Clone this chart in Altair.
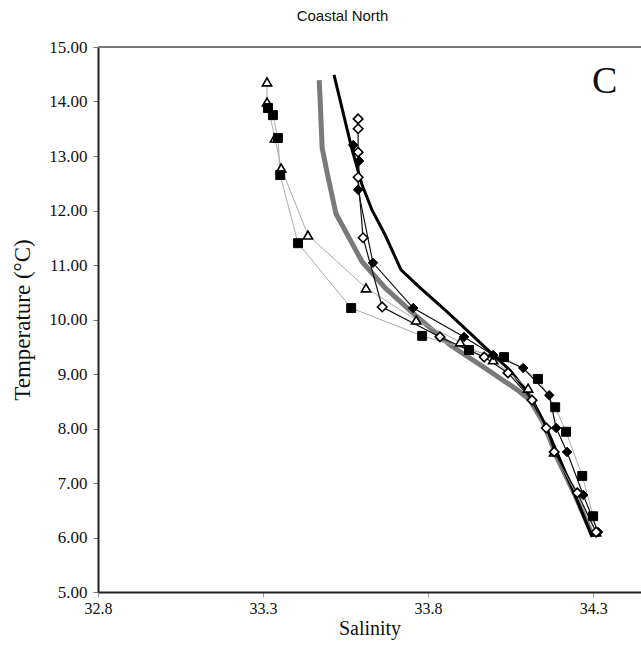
import altair as alt
import pandas as pd

# ---- data (salinity, temperature) ----
tri_s = [33.312, 33.312, 33.336, 33.355, 33.436, 33.612, 33.764, 33.897, 33.997, 34.103, 34.182, 34.309]
tri_t = [14.36, 13.99, 13.33, 12.78, 11.55, 10.58, 9.99, 9.59, 9.26, 8.74, 7.57, 6.10]

sq_s = [33.315, 33.330, 33.345, 33.352, 33.406, 33.567, 33.782, 33.924, 34.030, 34.133, 34.185, 34.218, 34.267, 34.300]
sq_t = [13.88, 13.75, 13.33, 12.65, 11.40, 10.21, 9.70, 9.44, 9.31, 8.91, 8.39, 7.94, 7.13, 6.39]

odia_s = [33.588, 33.588, 33.588, 33.588, 33.603, 33.661, 33.836, 33.970, 34.042, 34.115, 34.158, 34.182, 34.252, 34.309]
odia_t = [13.68, 13.50, 13.07, 12.61, 11.50, 10.23, 9.68, 9.31, 9.02, 8.52, 8.01, 7.57, 6.82, 6.10]

fdia_s = [33.573, 33.591, 33.588, 33.633, 33.755, 33.909, 33.997, 34.088, 34.167, 34.188, 34.221, 34.270, 34.315]
fdia_t = [13.20, 12.91, 12.38, 11.04, 10.21, 9.68, 9.35, 9.11, 8.61, 8.01, 7.57, 6.78, 6.10]

blk_s = [33.515, 33.548, 33.570, 33.600, 33.630, 33.670, 33.718, 33.776, 33.852, 33.927, 33.988, 34.048, 34.109, 34.155, 34.200, 34.245, 34.297]
blk_t = [14.49, 13.66, 13.11, 12.47, 12.01, 11.55, 10.91, 10.58, 10.17, 9.75, 9.40, 9.07, 8.61, 8.06, 7.42, 6.78, 6.01]

gry_s = [33.470, 33.473, 33.479, 33.497, 33.521, 33.564, 33.600, 33.670, 33.761, 33.867, 33.967, 34.070, 34.109, 34.148, 34.194, 34.245, 34.297]
gry_t = [14.39, 14.03, 13.15, 12.61, 11.94, 11.46, 11.06, 10.58, 10.08, 9.53, 9.13, 8.71, 8.52, 8.12, 7.42, 6.78, 6.05]

y_ticks = [5, 6, 7, 8, 9, 10, 11, 12, 13, 14, 15]
x_ticks = [32.8, 33.3, 33.8, 34.3]
panel_label = ["C"]
panel_pos = [34.335, 14.35]


def frame(s, t):
    return pd.DataFrame({"S": s, "T": t, "i": list(range(len(s)))})


tri = frame(tri_s, tri_t)
sq = frame(sq_s, sq_t)
odia = frame(odia_s, odia_t)
fdia = frame(fdia_s, fdia_t)
blk = frame(blk_s, blk_t)
gry = frame(gry_s, gry_t)

xscale = alt.Scale(domain=[32.8, 34.445], nice=False, zero=False)
yscale = alt.Scale(domain=[5, 15], nice=False, zero=False)

X = alt.X("S:Q", scale=xscale, title="Salinity",
          axis=alt.Axis(values=x_ticks, format=".1f", grid=False, labelFont="Liberation Serif",
                        labelFontSize=16, labelColor="#111", labelFlush=False, titleFont="Liberation Serif",
                        titleFontSize=20, titleFontWeight="normal", titleColor="#111",
                        domainColor="#222", domainWidth=2, tickColor="#999", tickSize=5,
                        labelPadding=3, titlePadding=2))
Y = alt.Y("T:Q", scale=yscale, title="Temperature (°C)",
          axis=alt.Axis(values=y_ticks, format=".2f", grid=False, labelFont="Liberation Serif",
                        labelFontSize=17, labelColor="#111", labelFlush=False, titleFont="Liberation Serif",
                        titleFontSize=23, titleFontWeight="normal", titleColor="#111",
                        domainColor="#222", domainWidth=2, tickColor="#777", tickSize=5,
                        labelPadding=6, titlePadding=14))
O = alt.Order("i:Q")

top_border = alt.Chart(pd.DataFrame({"T": [15.0]})).mark_rule(color="#777", strokeWidth=2).encode(
    y=alt.Y("T:Q", scale=yscale))

gray_line = alt.Chart(gry).mark_line(color="#7a7a7a", strokeWidth=5).encode(x=X, y=Y, order=O)
black_line = alt.Chart(blk).mark_line(color="#000", strokeWidth=3).encode(x=X, y=Y, order=O)

tri_line = alt.Chart(tri).mark_line(color="#aaaaaa", strokeWidth=1).encode(x=X, y=Y, order=O)
sq_line = alt.Chart(sq).mark_line(color="#aaaaaa", strokeWidth=1).encode(x=X, y=Y, order=O)
odia_line = alt.Chart(odia).mark_line(color="#111", strokeWidth=1.2).encode(x=X, y=Y, order=O)
fdia_line = alt.Chart(fdia).mark_line(color="#111", strokeWidth=1.2).encode(x=X, y=Y, order=O)

tri_pts = alt.Chart(tri).mark_point(shape="triangle-up", filled=True, fill="white", stroke="black",
                                    strokeWidth=1.6, size=85, opacity=1).encode(x=X, y=Y)
sq_pts = alt.Chart(sq).mark_point(shape="square", filled=True, fill="black", stroke="black",
                                  strokeWidth=1, size=80, opacity=1).encode(x=X, y=Y)
odia_pts = alt.Chart(odia).mark_point(shape="diamond", filled=True, fill="white", stroke="black",
                                      strokeWidth=1.6, size=90, opacity=1).encode(x=X, y=Y)
fdia_pts = alt.Chart(fdia).mark_point(shape="diamond", filled=True, fill="black", stroke="black",
                                      strokeWidth=1, size=90, opacity=1).encode(x=X, y=Y)

label = alt.Chart(pd.DataFrame({"S": [panel_pos[0]], "T": [panel_pos[1]], "txt": panel_label})).mark_text(
    font="Liberation Serif", fontSize=38, color="#111", align="center", baseline="middle").encode(
    x=alt.X("S:Q", scale=xscale), y=alt.Y("T:Q", scale=yscale), text="txt:N")

chart = alt.layer(
    top_border, gray_line, black_line,
    tri_line, sq_line, odia_line, fdia_line,
    tri_pts, sq_pts, fdia_pts, odia_pts, label
).properties(
    width=543, height=545,
    title=alt.TitleParams("Coastal North", font="Liberation Sans", fontSize=15, fontWeight="normal",
                          color="#111", anchor="middle", dx=-27, offset=14),
    autosize=alt.AutoSizeParams(type="none"),
    padding={"left": 98, "top": 47, "right": 0, "bottom": 71},
).configure_view(stroke=None)

chart.save("out.html", embed_options={"renderer": "svg", "actions": False})
